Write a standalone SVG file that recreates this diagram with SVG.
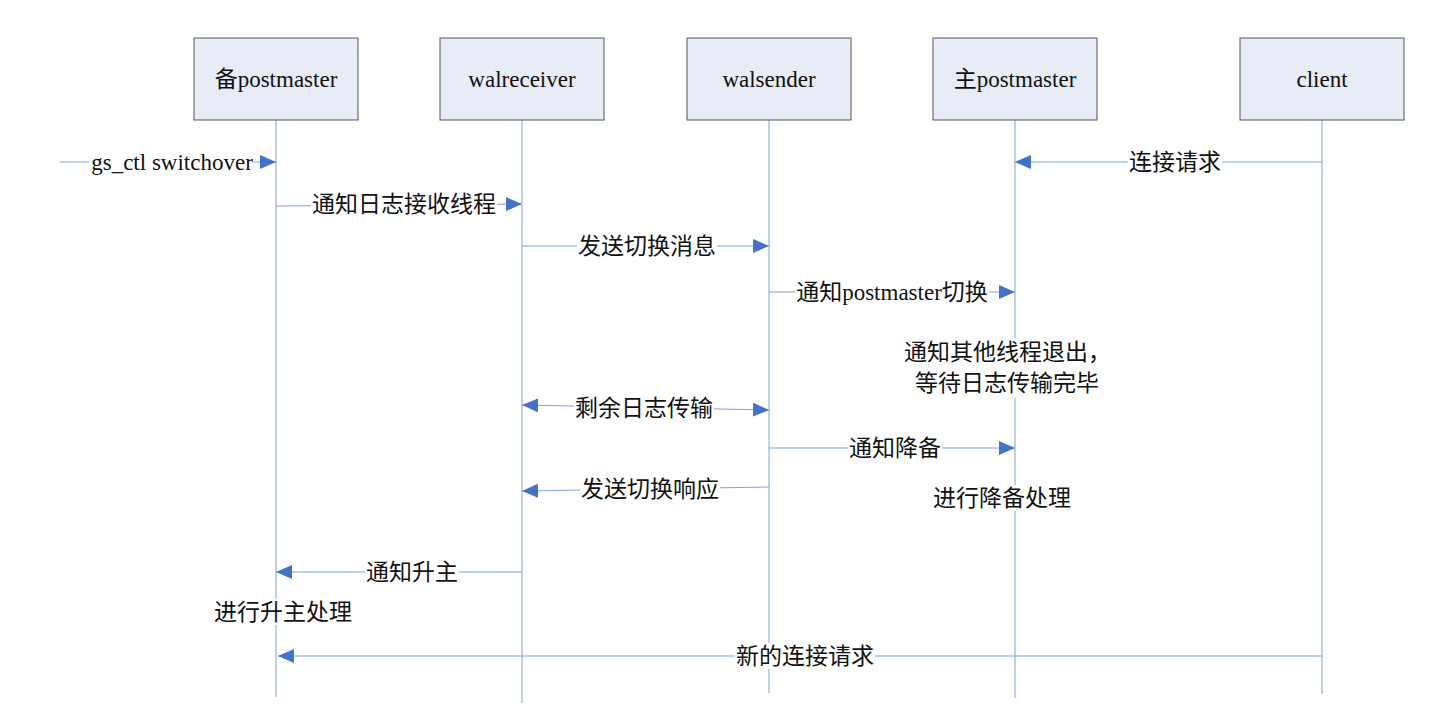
<svg xmlns="http://www.w3.org/2000/svg" width="1437" height="713" viewBox="0 0 1437 713">
<defs>
<marker id="ah" viewBox="0 0 16 14" refX="16" refY="7" markerWidth="16" markerHeight="14" markerUnits="userSpaceOnUse" orient="auto-start-reverse">
<path d="M0,0 L16,7 L0,14 Z" fill="#4472C4"/>
</marker>
<style>
.box{fill:#E8ECF7;stroke:#555;stroke-width:1}
.life{stroke:#7EA1D8;stroke-width:1;fill:none}
.msg{stroke:#7EA1D8;stroke-width:1;fill:none;marker-end:url(#ah)}
.t{font-family:"Liberation Serif","Noto Sans CJK SC",serif;font-size:23px;fill:#111;text-anchor:middle}
.lb{fill:#fff}
</style>
</defs>
<rect width="1437" height="713" fill="#fff"/>
<g id="lifelines">
<line class="life" x1="276" y1="120" x2="276" y2="697"/>
<line class="life" x1="522" y1="120" x2="522" y2="703"/>
<line class="life" x1="769" y1="120" x2="769" y2="693"/>
<line class="life" x1="1015" y1="120" x2="1015" y2="698"/>
<line class="life" x1="1322" y1="120" x2="1322" y2="694"/>
</g>
<g id="n1"><rect class="box" x="194" y="38" width="164" height="82"/><text class="t" x="276" y="87">备postmaster</text></g>
<g id="n2"><rect class="box" x="440" y="38" width="164" height="82"/><text class="t" x="522" y="87">walreceiver</text></g>
<g id="n3"><rect class="box" x="687" y="38" width="164" height="82"/><text class="t" x="769" y="87">walsender</text></g>
<g id="n4"><rect class="box" x="933" y="38" width="164" height="82"/><text class="t" x="1015" y="87">主postmaster</text></g>
<g id="n5"><rect class="box" x="1240" y="38" width="164" height="82"/><text class="t" x="1322" y="87">client</text></g>
<g id="connectors">
<line class="msg" x1="60" y1="162" x2="276" y2="162"/>
<line class="msg" x1="1322" y1="162" x2="1015" y2="162"/>
<line class="msg" x1="276" y1="206" x2="522" y2="204"/>
<line class="msg" x1="522" y1="246" x2="769" y2="246"/>
<line class="msg" x1="769" y1="292" x2="1015" y2="292"/>
<line class="msg" x1="522" y1="405" x2="769" y2="410" style="marker-start:url(#ah)"/>
<line class="msg" x1="769" y1="448" x2="1015" y2="448"/>
<line class="msg" x1="769" y1="487" x2="522" y2="491"/>
<line class="msg" x1="522" y1="572" x2="276" y2="572"/>
<line class="msg" x1="1322" y1="656" x2="278" y2="656"/>
</g>
<g id="labels">
<rect class="lb" x="89" y="149" width="165" height="26"/><text class="t" x="172" y="170">gs_ctl switchover</text>
<rect class="lb" x="1128" y="149" width="94" height="26"/><text class="t" x="1175" y="170">连接请求</text>
<rect class="lb" x="311" y="191" width="186" height="26"/><text class="t" x="404" y="212">通知日志接收线程</text>
<rect class="lb" x="577" y="233" width="140" height="26"/><text class="t" x="647" y="254">发送切换消息</text>
<rect class="lb" x="795" y="279" width="194" height="26"/><text class="t" x="892" y="300">通知postmaster切换</text>
<rect class="lb" x="901" y="338" width="212" height="60"/>
<text class="t" x="1111" y="360" style="text-anchor:end">通知其他线程退出，</text>
<text class="t" x="1099" y="391" style="text-anchor:end">等待日志传输完毕</text>
<rect class="lb" x="574" y="395" width="140" height="26"/><text class="t" x="644" y="416">剩余日志传输</text>
<rect class="lb" x="848" y="435" width="94" height="26"/><text class="t" x="895" y="456">通知降备</text>
<rect class="lb" x="580" y="476" width="140" height="26"/><text class="t" x="650" y="497">发送切换响应</text>
<rect class="lb" x="932" y="485" width="140" height="26"/><text class="t" x="1002" y="506">进行降备处理</text>
<rect class="lb" x="365" y="559" width="94" height="26"/><text class="t" x="412" y="580">通知升主</text>
<rect class="lb" x="213" y="599" width="140" height="26"/><text class="t" x="283" y="620">进行升主处理</text>
<rect class="lb" x="735" y="643" width="140" height="26"/><text class="t" x="805" y="664">新的连接请求</text>
</g>
</svg>
